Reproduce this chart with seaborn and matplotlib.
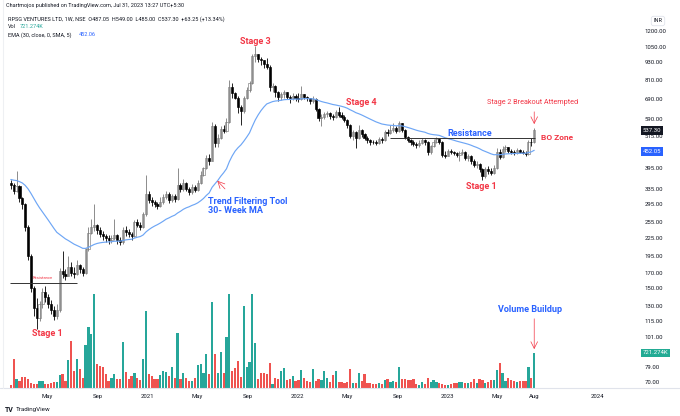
import numpy as np
import pandas as pd
import matplotlib
matplotlib.use("Agg")
import matplotlib.pyplot as plt
import matplotlib.transforms as mtransforms
from matplotlib.lines import Line2D
from matplotlib.ticker import FixedLocator, NullLocator, FuncFormatter
import seaborn as sns

sns.set_theme(style="white")
plt.rcParams["font.family"] = ["Roboto", "DejaVu Sans"]

# weekly bars of RPSG Ventures (NSE)
start_week = "2020-02-03"
first_open = 350.0
close = [345, 330, 342, 310, 295, 245, 195, 150, 128, 118,
         132, 145, 140, 132, 126, 120, 126, 172, 168, 165,
         178, 170, 168, 180, 175, 170, 205, 235, 245, 250,
         240, 232, 228, 225, 222, 224, 230, 222, 218, 240,
         236, 232, 228, 255, 250, 245, 272, 320, 305, 300,
         295, 292, 302, 312, 322, 305, 315, 308, 345, 335,
         350, 335, 325, 340, 332, 350, 375, 395, 430, 420,
         555, 485, 505, 545, 535, 575, 760, 725, 700, 650,
         630, 700, 745, 790, 980, 1000, 960, 945, 920, 900,
         760, 770, 730, 705, 720, 735, 705, 695, 710, 700,
         690, 720, 705, 695, 680, 692, 640, 595, 600, 612,
         620, 605, 598, 622, 610, 600, 585, 560, 515, 528,
         505, 540, 520, 505, 495, 490, 487, 484, 500, 495,
         530, 525, 540, 548, 535, 568, 540, 510, 498, 488,
         482, 476, 485, 495, 488, 450, 472, 490, 500, 490,
         440, 438, 455, 450, 446, 440, 448, 452, 430, 435,
         420, 405, 410, 392, 372, 392, 385, 380, 395, 450,
         432, 460, 468, 455, 450, 446, 458, 452, 448, 444,
         490, 487.05, 537.3]
high = [360, 350, 385, 345, 312, 298, 250, 198, 152, 138,
        135, 150, 152, 143, 136, 130, 132, 176, 202, 175,
        195, 185, 178, 188, 182, 178, 208, 245, 262, 295,
        252, 245, 238, 232, 230, 230, 262, 232, 226, 245,
        248, 242, 236, 260, 262, 255, 278, 375, 330, 312,
        306, 302, 312, 322, 330, 325, 322, 320, 395, 352,
        362, 355, 340, 348, 345, 360, 385, 400, 440, 445,
        575, 565, 520, 555, 560, 595, 810, 785, 735, 710,
        660, 710, 760, 800, 1000, 1060, 1000, 975, 950, 965,
        910, 785, 775, 740, 735, 745, 735, 715, 725, 720,
        725, 770, 722, 710, 700, 708, 695, 645, 612, 625,
        630, 625, 615, 635, 650, 625, 610, 590, 565, 540,
        535, 560, 545, 525, 512, 502, 498, 495, 508, 510,
        540, 545, 560, 572, 555, 578, 570, 545, 515, 502,
        495, 490, 495, 505, 500, 492, 478, 500, 508, 503,
        492, 455, 462, 460, 455, 452, 455, 460, 455, 442,
        440, 425, 418, 412, 395, 398, 402, 395, 405, 465,
        462, 472, 478, 470, 462, 458, 466, 462, 458, 455,
        495, 505, 549]
low = [335, 322, 325, 300, 285, 238, 188, 145, 120, 108,
       115, 128, 134, 128, 122, 116, 117, 124, 162, 160,
       165, 165, 163, 166, 170, 165, 168, 202, 232, 238,
       232, 226, 222, 218, 215, 216, 222, 215, 212, 214,
       228, 226, 222, 226, 245, 240, 244, 268, 298, 292,
       288, 284, 288, 296, 308, 298, 300, 300, 305, 325,
       330, 328, 318, 322, 326, 330, 348, 370, 392, 405,
       418, 470, 470, 500, 525, 530, 570, 700, 690, 620,
       560, 620, 690, 735, 780, 930, 930, 910, 890, 880,
       740, 730, 705, 680, 685, 700, 690, 672, 685, 680,
       675, 685, 690, 680, 662, 668, 630, 580, 555, 590,
       598, 590, 585, 592, 600, 590, 575, 548, 505, 498,
       465, 500, 510, 495, 485, 478, 480, 478, 482, 486,
       492, 515, 520, 530, 525, 532, 530, 500, 488, 478,
       472, 466, 470, 480, 478, 440, 442, 468, 485, 480,
       432, 428, 436, 442, 440, 434, 420, 440, 422, 418,
       410, 398, 395, 382, 360, 365, 378, 374, 378, 393,
       425, 428, 450, 448, 445, 440, 444, 446, 442, 438,
       440, 475, 485]
volume_k = [60, 600, 185, 145, 225, 225, 185, 100, 80, 80,
            145, 145, 80, 80, 100, 120, 120, 265, 290, 145,
            580, 970, 350, 600, 390, 205, 890, 1260, 1110, 1940,
            495, 455, 435, 290, 145, 205, 290, 185, 185, 950,
            330, 185, 250, 310, 205, 165, 600, 1590, 290, 250,
            185, 185, 265, 350, 330, 250, 435, 205, 1130, 185,
            310, 205, 145, 145, 205, 475, 495, 310, 700, 290,
            1770, 700, 310, 740, 310, 1050, 1940, 350, 410, 555,
            225, 1690, 435, 535, 1940, 930, 185, 310, 310, 290,
            515, 80, 205, 185, 350, 410, 165, 185, 250, 145,
            165, 370, 205, 145, 125, 390, 145, 185, 165, 350,
            205, 125, 265, 350, 125, 125, 100, 125, 390, 100,
            100, 310, 145, 290, 100, 100, 80, 80, 100, 80,
            165, 185, 125, 145, 125, 435, 185, 185, 165, 165,
            185, 80, 60, 125, 80, 205, 125, 165, 125, 100,
            80, 60, 60, 80, 100, 100, 125, 125, 100, 100,
            125, 185, 100, 185, 165, 100, 125, 165, 165, 370,
            515, 310, 145, 205, 165, 145, 125, 145, 145, 145,
            435, 205, 721.274]

ema_seed = 362.0   # where the 30-week EMA enters the chart
ema_len = 30
last_ema_label = 452.05
resist_early = 156
resist_late = 505
price_ticks = [1200, 1050, 930, 810, 690, 590, 515, 395, 335, 295, 255,
               225, 195, 170, 150, 130, 115, 101, 79, 70]
month_ticks = ["2020-05-01", "2020-09-01", "2021-01-01", "2021-05-01",
               "2021-09-01", "2022-01-01", "2022-05-01", "2022-09-01",
               "2023-01-01", "2023-05-01", "2023-08-01", "2024-01-01"]
month_labels = ["May", "Sep", "2021", "May", "Sep", "2022", "May", "Sep",
                "2023", "May", "Aug", "2024"]

n = min(len(close), len(high), len(low), len(volume_k))
df = pd.DataFrame({
    "date": pd.date_range(start_week, periods=n, freq="7D"),
    "close": close[:n], "high": high[:n], "low": low[:n],
    "volume": np.array(volume_k[:n]) * 1000,
})
df["open"] = [first_open] + list(df["close"].iloc[:-1])
df["up"] = df["close"] >= df["open"]
ema = pd.Series([ema_seed] + list(df["close"])).ewm(span=ema_len, adjust=False).mean().iloc[1:].values

red = "#f23645"
blue = "#2962ff"
teal = "#26a69a"
txt = "#131722"

W, H = 680, 416
fig = plt.figure(figsize=(6.8, 4.16), dpi=100)
fig.patch.set_facecolor("white")


def fx(px):
    return px / W


def fy(py):
    return 1 - py / H


rect = [fx(3), fy(388), fx(632) - fx(3), fy(12) - fy(388)]
axv = fig.add_axes(rect)
ax = fig.add_axes(rect, sharex=axv)
ax.patch.set_alpha(0)

# volume underneath
vmax = 721274 * 376 / 35
axv.bar(df["date"], df["volume"], width=5.4,
        color=np.where(df["up"], teal, "#ef5350"), linewidth=0)
axv.set_ylim(0, vmax)
axv.tick_params(left=False, labelleft=False, bottom=False, labelbottom=False)
for s in axv.spines.values():
    s.set_visible(False)

# candles
body_lo = np.minimum(df["open"], df["close"])
body_h = np.maximum((df["close"] - df["open"]).abs(), body_lo * 0.004)
ax.vlines(df["date"], df["low"], df["high"],
          colors=np.where(df["up"], "#7a7a7a", "black"), linewidth=0.6)
ax.bar(df["date"], body_h, bottom=body_lo, width=5.2,
       color=np.where(df["up"], "white", "black"),
       edgecolor=np.where(df["up"], "#7a7a7a", "black"), linewidth=0.45)

sns.lineplot(x=df["date"], y=ema, ax=ax, color="#6ea6f5", linewidth=0.85)

ax.set_yscale("log")
ax.set_ylim(66.8, 1399)
ax.set_xlim(pd.Timestamp("2020-01-15"), pd.Timestamp("2024-03-25"))
ax.set_xlabel("")
ax.set_ylabel("")

ax.yaxis.tick_right()
ax.yaxis.set_major_locator(FixedLocator(price_ticks))
ax.yaxis.set_minor_locator(NullLocator())
ax.yaxis.set_major_formatter(FuncFormatter(lambda v, p: f"{v:.2f}"))
ax.tick_params(axis="y", length=0, pad=9.0, labelsize=4.3, labelcolor=txt)
ax.set_xticks(pd.to_datetime(month_ticks))
ax.set_xticklabels(month_labels)
ax.tick_params(axis="x", length=0, pad=4.5, labelsize=4.3, labelcolor=txt)
for s in ax.spines.values():
    s.set_visible(False)

# drawn lines and notes
ax.hlines(resist_early, pd.Timestamp("2020-01-31"), pd.Timestamp("2020-07-12"), color="#333333", lw=0.7)
ax.hlines(resist_late, pd.Timestamp("2022-08-15"), pd.Timestamp("2023-08-02"), color="#333333", lw=0.7)
ax.text(pd.Timestamp("2020-04-21"), 163, "Resistance", color=red, fontsize=3, ha="center", va="center")

note = dict(fontsize=6.5, fontweight="bold", ha="center", va="center")
ax.text(pd.Timestamp("2020-05-03"), 104, "Stage 1", color=red, **note)
ax.text(pd.Timestamp("2021-09-21"), 1098, "Stage 3", color=red, **note)
ax.text(pd.Timestamp("2022-06-06"), 671, "Stage 4", color=red, **note)
ax.text(pd.Timestamp("2023-03-24"), 342, "Stage 1", color=red, **note)
ax.text(pd.Timestamp("2023-02-25"), 525, "Resistance", color=blue, **note)
ax.text(pd.Timestamp("2023-07-26"), 671, "Stage 2 Breakout Attempted", color=red,
        fontsize=5.2, ha="center", va="center")
ax.text(pd.Timestamp("2023-08-16"), resist_late, "BO Zone", color=red, fontsize=6,
        fontweight="bold", ha="left", va="center")
ax.text(pd.Timestamp("2021-05-29"), 291, "Trend Filtering Tool\n30- Week MA", color=blue,
        fontsize=6.5, fontweight="bold", ha="left", va="center", linespacing=1.1)
ax.text(pd.Timestamp("2023-07-21"), 126, "Volume Buildup", color=blue, **note)

last_date = df["date"].iloc[-1]
ax.annotate("", xy=(last_date, 552), xytext=(last_date, 638),
            arrowprops=dict(arrowstyle="->", color=red, lw=0.5))
ax.annotate("", xy=(pd.Timestamp("2021-06-15"), 363), xytext=(pd.Timestamp("2021-07-13"), 329),
            arrowprops=dict(arrowstyle="->", color=red, lw=0.5))
axv.annotate("", xy=(last_date, df["volume"].iloc[-1] * 1.03), xytext=(last_date, vmax * 72 / 376),
             arrowprops=dict(arrowstyle="->", color=red, lw=0.5))

# price scale boxes
xl = (643 - 3) / 629
tr = mtransforms.blended_transform_factory(ax.transAxes, ax.transData)
trv = mtransforms.blended_transform_factory(axv.transAxes, axv.transData)
box = dict(fontsize=4.3, color="white", ha="left", va="center", clip_on=False)
ax.text(xl, df["close"].iloc[-1], f"{df['close'].iloc[-1]:.2f}", transform=tr,
        bbox=dict(boxstyle="square,pad=0.3", fc=txt, ec="none"), **box)
ax.text(xl, last_ema_label, f"{last_ema_label:.2f}", transform=tr,
        bbox=dict(boxstyle="square,pad=0.3", fc=blue, ec="none"), **box)
axv.text(xl, df["volume"].iloc[-1], "721.274K", transform=trv,
         bbox=dict(boxstyle="square,pad=0.3", fc="#22ab94", ec="none"), **box)

# header
hdr = dict(fontsize=4.0, color=txt, va="center")
fig.text(fx(6), fy(6), "Chartmojos published on TradingView.com, Jul 31, 2023 13:27 UTC+5:30", **hdr)
fig.text(fx(8), fy(19), "RPSG VENTURES LTD, 1W, NSE  O487.05  H549.00  L485.00  C537.30  +63.25 (+13.34%)", **hdr)
fig.text(fx(8), fy(27), "Vol", **hdr)
fig.text(fx(20), fy(27), "721.274K", fontsize=4.0, color=teal, va="center")
fig.text(fx(8), fy(35), "EMA (30, close, 0, SMA, 5)", **hdr)
fig.text(fx(79), fy(35), "452.06", fontsize=4.0, color=blue, va="center")
fig.text(fx(658), fy(21), "INR", fontsize=4.0, color=txt, ha="center", va="center",
         bbox=dict(boxstyle="round,pad=0.4", fc="white", ec="#e0e3eb", lw=0.6))
fig.text(fx(5), fy(410), "TV", fontsize=5, fontweight="bold", color=txt, va="center")
fig.text(fx(16), fy(410), "TradingView", fontsize=4.5, color=txt, va="center")

fig.add_artist(Line2D([0, 1], [fy(388), fy(388)], color="#e0e3eb", lw=0.8, transform=fig.transFigure))
fig.add_artist(Line2D([fx(3), fx(3)], [fy(388), 1], color="#eef0f3", lw=0.8, transform=fig.transFigure))

fig.savefig("out.png", dpi=100)
